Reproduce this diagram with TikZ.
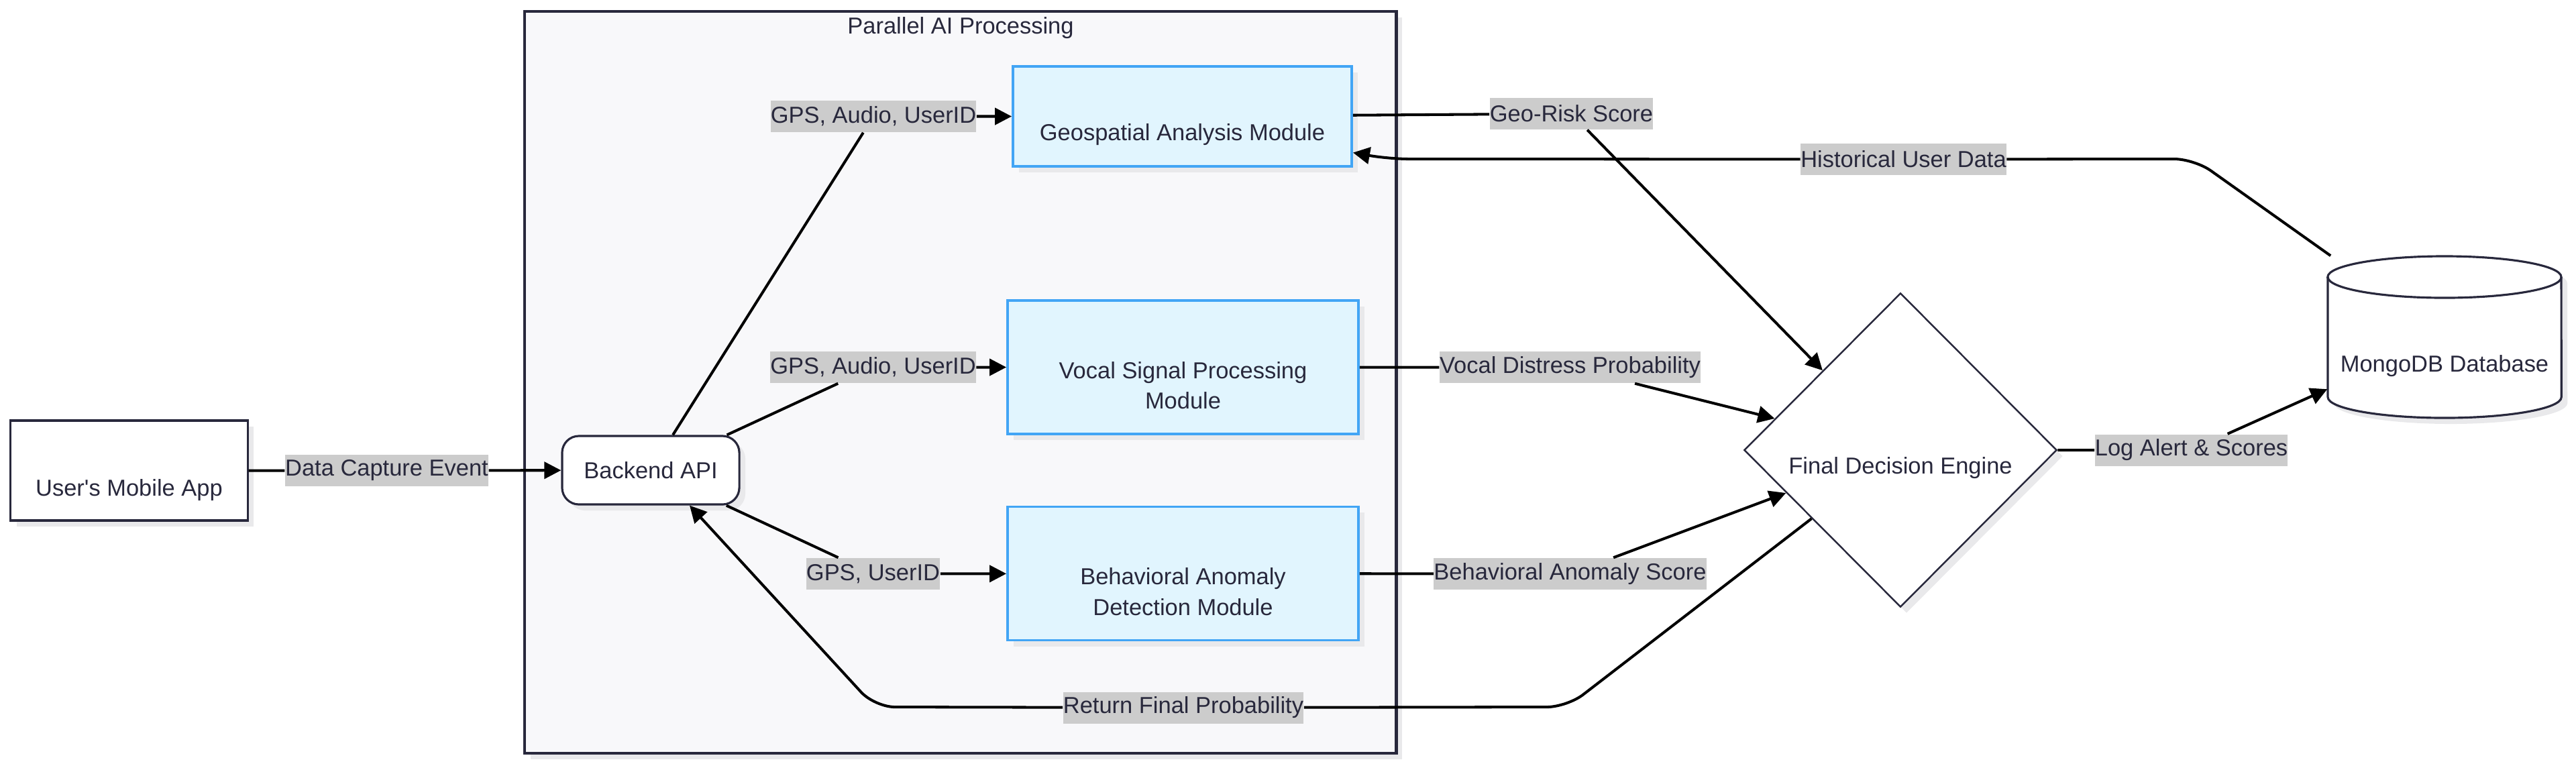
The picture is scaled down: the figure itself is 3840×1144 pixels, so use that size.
\documentclass[tikz,border=0pt]{standalone}
\usepackage{fontspec}
\setmainfont{Liberation Sans}
\usetikzlibrary{shapes.geometric,arrows.meta,shadows}
\definecolor{ink}{RGB}{40,40,60}
\definecolor{panel}{RGB}{248,248,250}
\definecolor{modfill}{RGB}{225,245,254}
\definecolor{modline}{RGB}{66,165,245}
\definecolor{taggray}{RGB}{204,204,204}
\definecolor{shadowgray}{RGB}{233,233,235}
\newcommand{\lowtext}[1]{\rule{0pt}{#1}}
\tikzset{
	txt/.style={font=\fontsize{9.8}{13}\selectfont, text=ink, align=center},
	boxshadow/.style={drop shadow={shadow xshift=0.09cm, shadow yshift=-0.09cm, fill=shadowgray, opacity=1}},
	panelbox/.style={draw=ink, line width=1.2pt, fill=panel, boxshadow, minimum width=12.99cm, minimum height=11.06cm},
	plainbox/.style={txt, draw=ink, line width=0.9pt, fill=white, boxshadow},
	modbox/.style={txt, draw=modline, line width=1pt, fill=modfill, boxshadow, minimum width=5.23cm, minimum height=1.99cm},
	edgetag/.style={txt, fill=taggray, inner xsep=0pt, inner ysep=0pt, minimum height=0.47cm},
	flow/.style={line width=1.15pt, -{Triangle[length=0.25cm,width=0.25cm]}}
}
\begin{document}
\begin{tikzpicture}[x=0.01cm,y=-0.01cm]
	\useasboundingbox (0,0) rectangle (3840,1144);
	\node[panelbox] (ai) at (1431.5,570) {};
	\node[txt] (aititle) at (1432,42) {Parallel AI Processing};
	\node[plainbox, minimum width=3.53cm, minimum height=1.49cm] (app) at (192.5,701.5) {\lowtext{0.83cm}User\textquotesingle s Mobile App};
	\node[plainbox, rounded corners=0.25cm, minimum width=2.64cm, minimum height=1.02cm] (api) at (970,701) {Backend API};
	\node[modbox, minimum width=5.05cm, minimum height=1.49cm] (geo) at (1762.5,173.5) {\lowtext{0.79cm}Geospatial Analysis Module};
	\node[modbox] (vocal) at (1763.5,547.5) {\lowtext{0.79cm}Vocal Signal Processing\\Module};
	\node[modbox] (behav) at (1763.5,855) {\lowtext{0.79cm}Behavioral Anomaly\\Detection Module};
	\node[plainbox, diamond, aspect=1, inner sep=0pt, line width=0.7pt, minimum width=4.66cm, minimum height=4.68cm] (engine) at (2833,671) {\lowtext{0.79cm}Final Decision Engine};
	\draw[ink, line width=0.9pt, fill=white, boxshadow] (3470,413) -- (3470,592) arc[start angle=180, end angle=360, x radius=1.74cm, y radius=0.31cm] -- (3818,413) arc[start angle=0, end angle=180, x radius=1.74cm, y radius=0.31cm] -- cycle;
	\draw[ink, line width=0.9pt] (3470,413) arc[start angle=180, end angle=360, x radius=1.74cm, y radius=0.31cm];
	\node[txt, minimum width=3.48cm, minimum height=2.40cm] (db) at (3644,502) {\lowtext{1.13cm}MongoDB Database};
	\node[edgetag] (capture) at (576.5,701.5) {Data Capture Event};
	\node[edgetag] (geoin) at (1302,173.5) {GPS, Audio, UserID};
	\node[edgetag] (vocalin) at (1301.5,547.5) {GPS, Audio, UserID};
	\node[edgetag] (behavin) at (1301.5,855.5) {GPS, UserID};
	\node[edgetag] (georisk) at (2342.5,169.5) {Geo-Risk Score};
	\node[edgetag] (distress) at (2340.5,547.5) {Vocal Distress Probability};
	\node[edgetag] (anomaly) at (2340.5,855.5) {Behavioral Anomaly Score};
	\node[edgetag] (logalert) at (3266.5,671) {Log Alert \& Scores};
	\node[edgetag] (history) at (2837.5,237.5) {Historical User Data};
	\node[edgetag] (result) at (1764,1055) {Return Final Probability};
	\draw[flow] (app) -- (capture) -- (api);
	\draw[flow] (api) -- (geoin) -- (geo);
	\draw[flow] (api) -- (vocalin) -- (vocal);
	\draw[flow] (api) -- (behavin) -- (behav);
	\draw[flow] (geo) -- (georisk) -- (engine);
	\draw[flow] (vocal) -- (distress) -- (engine);
	\draw[flow] (behav) -- (anomaly) -- (engine);
	\draw[flow] (engine) -- (logalert) -- (db);
	\draw[flow, rounded corners=0.3cm] (db) -- (3271,237) -- (history) -- (2070,237) -- ([yshift=-0.54cm]geo.east);
	\draw[flow, rounded corners=0.3cm] (engine) -- (2336,1054) -- (result) -- (1304,1054) -- ([xshift=0.58cm]api.south);
\end{tikzpicture}
\end{document}
